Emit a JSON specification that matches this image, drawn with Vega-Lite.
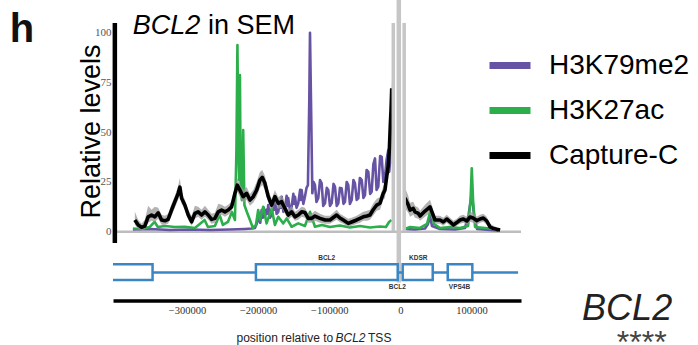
{
  "$schema": "https://vega.github.io/schema/vega-lite/v6.json",
  "width": 408,
  "height": 272,
  "autosize": {"type": "none"},
  "padding": {"left": 113, "top": 28.5, "right": 177, "bottom": 44.5},
  "background": "white",
  "config": {"view": {"stroke": null}, "font": "Liberation Sans"},
  "datasets": {
    "k79": [
      {"s":"H3K79me2","p":"L","x":-376000,"y":1.1},{"s":"H3K79me2","p":"L","x":-352000,"y":1.4},{"s":"H3K79me2","p":"L","x":-324000,"y":0.9},{"s":"H3K79me2","p":"L","x":-296000,"y":1.1},{"s":"H3K79me2","p":"L","x":-268000,"y":0.9},{"s":"H3K79me2","p":"L","x":-240000,"y":1.1},{"s":"H3K79me2","p":"L","x":-218500,"y":1.4},{"s":"H3K79me2","p":"L","x":-208700,"y":1.6},{"s":"H3K79me2","p":"L","x":-204500,"y":1.9},
      {"s":"H3K79me2","p":"L","x":-199900,"y":5.9},{"s":"H3K79me2","p":"L","x":-198300,"y":9},{"s":"H3K79me2","p":"L","x":-197000,"y":4.5},{"s":"H3K79me2","p":"L","x":-195100,"y":10.9},{"s":"H3K79me2","p":"L","x":-193500,"y":7},{"s":"H3K79me2","p":"L","x":-192000,"y":12},{"s":"H3K79me2","p":"L","x":-190400,"y":7.5},{"s":"H3K79me2","p":"L","x":-188500,"y":11},{"s":"H3K79me2","p":"L","x":-187000,"y":9},{"s":"H3K79me2","p":"L","x":-185800,"y":13.4},{"s":"H3K79me2","p":"L","x":-183500,"y":7},{"s":"H3K79me2","p":"L","x":-181000,"y":8.4},{"s":"H3K79me2","p":"L","x":-178800,"y":14},{"s":"H3K79me2","p":"L","x":-177500,"y":11},{"s":"H3K79me2","p":"L","x":-176400,"y":16.9},{"s":"H3K79me2","p":"L","x":-174000,"y":9},{"s":"H3K79me2","p":"L","x":-171700,"y":10.0},{"s":"H3K79me2","p":"L","x":-169500,"y":15},{"s":"H3K79me2","p":"L","x":-168000,"y":12},{"s":"H3K79me2","p":"L","x":-166900,"y":17.6},{"s":"H3K79me2","p":"L","x":-164500,"y":10},{"s":"H3K79me2","p":"L","x":-162300,"y":11.7},{"s":"H3K79me2","p":"L","x":-160000,"y":18},{"s":"H3K79me2","p":"L","x":-158800,"y":13},{"s":"H3K79me2","p":"L","x":-157700,"y":16.9},{"s":"H3K79me2","p":"L","x":-155000,"y":10},{"s":"H3K79me2","p":"L","x":-152900,"y":12.5},{"s":"H3K79me2","p":"L","x":-150500,"y":19},{"s":"H3K79me2","p":"L","x":-149200,"y":14},{"s":"H3K79me2","p":"L","x":-148200,"y":17.6},{"s":"H3K79me2","p":"L","x":-146000,"y":12},{"s":"H3K79me2","p":"L","x":-143600,"y":14.3},{"s":"H3K79me2","p":"L","x":-141000,"y":21},{"s":"H3K79me2","p":"L","x":-139800,"y":16},{"s":"H3K79me2","p":"L","x":-138800,"y":20.9},{"s":"H3K79me2","p":"L","x":-136500,"y":14},{"s":"H3K79me2","p":"L","x":-134200,"y":17.6},{"s":"H3K79me2","p":"L","x":-132000,"y":22},{"s":"H3K79me2","p":"L","x":-130000,"y":23.4},{"s":"H3K79me2","p":"L","x":-128100,"y":66},{"s":"H3K79me2","p":"L","x":-127100,"y":99.9},{"s":"H3K79me2","p":"L","x":-125700,"y":66},{"s":"H3K79me2","p":"L","x":-123800,"y":19.3},{"s":"H3K79me2","p":"L","x":-122000,"y":25},{"s":"H3K79me2","p":"L","x":-120100,"y":23.4},{"s":"H3K79me2","p":"L","x":-118000,"y":15},{"s":"H3K79me2","p":"L","x":-115500,"y":16.8},{"s":"H3K79me2","p":"L","x":-113000,"y":26},{"s":"H3K79me2","p":"L","x":-110700,"y":24.3},{"s":"H3K79me2","p":"L","x":-108500,"y":13},{"s":"H3K79me2","p":"L","x":-106000,"y":14.3},{"s":"H3K79me2","p":"L","x":-103500,"y":22},{"s":"H3K79me2","p":"L","x":-101400,"y":20.9},{"s":"H3K79me2","p":"L","x":-99000,"y":13},{"s":"H3K79me2","p":"L","x":-96600,"y":14.4},{"s":"H3K79me2","p":"L","x":-94000,"y":24},{"s":"H3K79me2","p":"L","x":-92000,"y":22.6},{"s":"H3K79me2","p":"L","x":-89500,"y":13},{"s":"H3K79me2","p":"L","x":-87300,"y":14.3},{"s":"H3K79me2","p":"L","x":-85000,"y":22},{"s":"H3K79me2","p":"L","x":-82600,"y":21.8},{"s":"H3K79me2","p":"L","x":-80000,"y":14},{"s":"H3K79me2","p":"L","x":-77900,"y":15.1},{"s":"H3K79me2","p":"L","x":-75500,"y":25},{"s":"H3K79me2","p":"L","x":-73300,"y":23.4},{"s":"H3K79me2","p":"L","x":-71000,"y":14},{"s":"H3K79me2","p":"L","x":-68500,"y":15.9},{"s":"H3K79me2","p":"L","x":-66000,"y":26},{"s":"H3K79me2","p":"L","x":-63900,"y":24.3},{"s":"H3K79me2","p":"L","x":-61500,"y":16},{"s":"H3K79me2","p":"L","x":-59200,"y":16.8},{"s":"H3K79me2","p":"L","x":-57000,"y":27},{"s":"H3K79me2","p":"L","x":-54400,"y":25.9},{"s":"H3K79me2","p":"L","x":-52000,"y":17},{"s":"H3K79me2","p":"L","x":-49800,"y":18.4},{"s":"H3K79me2","p":"L","x":-47500,"y":31},{"s":"H3K79me2","p":"L","x":-45100,"y":30.1},{"s":"H3K79me2","p":"L","x":-42500,"y":19},{"s":"H3K79me2","p":"L","x":-40400,"y":20.1},{"s":"H3K79me2","p":"L","x":-38000,"y":34},{"s":"H3K79me2","p":"L","x":-35700,"y":36.8},{"s":"H3K79me2","p":"L","x":-33500,"y":21},{"s":"H3K79me2","p":"L","x":-31100,"y":22.6},{"s":"H3K79me2","p":"L","x":-28500,"y":38},{"s":"H3K79me2","p":"L","x":-26300,"y":37.6},{"s":"H3K79me2","p":"L","x":-24000,"y":25},{"s":"H3K79me2","p":"L","x":-21700,"y":27.6},{"s":"H3K79me2","p":"L","x":-19500,"y":36},{"s":"H3K79me2","p":"L","x":-17000,"y":41.0},{"s":"H3K79me2","p":"L","x":-15800,"y":30},{"s":"H3K79me2","p":"L","x":-14600,"y":34.5},{"s":"H3K79me2","p":"L","x":-13600,"y":59.4},{"s":"H3K79me2","p":"L","x":-12200,"y":56},
      {"s":"H3K79me2","p":"R","x":6500,"y":1.4},{"s":"H3K79me2","p":"R","x":20500,"y":1.1},{"s":"H3K79me2","p":"R","x":34600,"y":1.6},{"s":"H3K79me2","p":"R","x":38800,"y":3.9},{"s":"H3K79me2","p":"R","x":41600,"y":7.9},{"s":"H3K79me2","p":"R","x":44400,"y":2.9},{"s":"H3K79me2","p":"R","x":55700,"y":1.4},{"s":"H3K79me2","p":"R","x":76800,"y":1.1},{"s":"H3K79me2","p":"R","x":90800,"y":1.9},{"s":"H3K79me2","p":"R","x":95800,"y":8.4},{"s":"H3K79me2","p":"R","x":100300,"y":19.3},{"s":"H3K79me2","p":"R","x":103500,"y":8.4},{"s":"H3K79me2","p":"R","x":107700,"y":1.4},{"s":"H3K79me2","p":"R","x":126000,"y":0.9},{"s":"H3K79me2","p":"R","x":137300,"y":0.6}
    ],
    "k27": [
      {"s":"H3K27ac","p":"L","x":-376000,"y":1.6},{"s":"H3K27ac","p":"L","x":-366200,"y":1.4},{"s":"H3K27ac","p":"L","x":-352200,"y":2.4},{"s":"H3K27ac","p":"L","x":-345600,"y":5.0},{"s":"H3K27ac","p":"L","x":-341000,"y":2.4},{"s":"H3K27ac","p":"L","x":-331100,"y":2.9},{"s":"H3K27ac","p":"L","x":-317000,"y":2.4},{"s":"H3K27ac","p":"L","x":-303000,"y":2.5},{"s":"H3K27ac","p":"L","x":-288900,"y":1.9},{"s":"H3K27ac","p":"L","x":-275200,"y":5.9},{"s":"H3K27ac","p":"L","x":-270600,"y":2.4},{"s":"H3K27ac","p":"L","x":-260800,"y":2.9},{"s":"H3K27ac","p":"L","x":-254200,"y":8.4},{"s":"H3K27ac","p":"L","x":-249500,"y":3.4},{"s":"H3K27ac","p":"L","x":-242500,"y":4.9},{"s":"H3K27ac","p":"L","x":-236900,"y":9.9},{"s":"H3K27ac","p":"L","x":-232600,"y":5.9},{"s":"H3K27ac","p":"L","x":-230500,"y":41},{"s":"H3K27ac","p":"L","x":-229100,"y":93.7},{"s":"H3K27ac","p":"L","x":-227700,"y":41},{"s":"H3K27ac","p":"L","x":-226600,"y":26},{"s":"H3K27ac","p":"L","x":-225600,"y":78.6},{"s":"H3K27ac","p":"L","x":-224500,"y":20.9},{"s":"H3K27ac","p":"L","x":-222800,"y":15.9},{"s":"H3K27ac","p":"L","x":-221000,"y":51},{"s":"H3K27ac","p":"L","x":-219300,"y":13.4},{"s":"H3K27ac","p":"L","x":-215800,"y":9.9},{"s":"H3K27ac","p":"L","x":-211500,"y":5.9},{"s":"H3K27ac","p":"L","x":-207300,"y":1.9},{"s":"H3K27ac","p":"L","x":-203100,"y":3.4},{"s":"H3K27ac","p":"L","x":-199900,"y":10.9},{"s":"H3K27ac","p":"L","x":-197500,"y":5.9},{"s":"H3K27ac","p":"L","x":-192900,"y":12.5},{"s":"H3K27ac","p":"L","x":-188100,"y":4.2},{"s":"H3K27ac","p":"L","x":-181000,"y":11.7},{"s":"H3K27ac","p":"L","x":-176400,"y":3.4},{"s":"H3K27ac","p":"L","x":-171700,"y":7.5},{"s":"H3K27ac","p":"L","x":-164700,"y":4.2},{"s":"H3K27ac","p":"L","x":-159900,"y":6.7},{"s":"H3K27ac","p":"L","x":-152900,"y":2.5},{"s":"H3K27ac","p":"L","x":-143600,"y":4.2},{"s":"H3K27ac","p":"L","x":-134200,"y":2.9},{"s":"H3K27ac","p":"L","x":-127100,"y":10.0},{"s":"H3K27ac","p":"L","x":-120100,"y":2.5},{"s":"H3K27ac","p":"L","x":-110300,"y":3.4},{"s":"H3K27ac","p":"L","x":-99000,"y":2.4},{"s":"H3K27ac","p":"L","x":-85000,"y":3.1},{"s":"H3K27ac","p":"L","x":-70900,"y":2.1},{"s":"H3K27ac","p":"L","x":-56800,"y":2.9},{"s":"H3K27ac","p":"L","x":-42800,"y":2.1},{"s":"H3K27ac","p":"L","x":-28700,"y":2.6},{"s":"H3K27ac","p":"L","x":-20300,"y":2.4},{"s":"H3K27ac","p":"L","x":-16000,"y":4.9},{"s":"H3K27ac","p":"L","x":-12500,"y":5.9},
      {"s":"H3K27ac","p":"R","x":6500,"y":1.4},{"s":"H3K27ac","p":"R","x":13500,"y":2.4},{"s":"H3K27ac","p":"R","x":27600,"y":1.9},{"s":"H3K27ac","p":"R","x":37400,"y":3.9},{"s":"H3K27ac","p":"R","x":43000,"y":11.7},{"s":"H3K27ac","p":"R","x":47300,"y":3.9},{"s":"H3K27ac","p":"R","x":55700,"y":1.9},{"s":"H3K27ac","p":"R","x":69800,"y":2.4},{"s":"H3K27ac","p":"R","x":83800,"y":1.9},{"s":"H3K27ac","p":"R","x":95100,"y":2.9},{"s":"H3K27ac","p":"R","x":98600,"y":15.9},{"s":"H3K27ac","p":"R","x":100300,"y":31.8},{"s":"H3K27ac","p":"R","x":102100,"y":15.9},{"s":"H3K27ac","p":"R","x":104900,"y":2.4},{"s":"H3K27ac","p":"R","x":119000,"y":1.9},{"s":"H3K27ac","p":"R","x":133000,"y":1.4},{"s":"H3K27ac","p":"R","x":140100,"y":0.9}
    ],
    "cap": [
      {"s":"Capture-C","p":"L","x":-373300,"y":5.9,"lo":3.5,"hi":10},{"s":"Capture-C","p":"L","x":-368600,"y":3.4,"lo":1.5,"hi":6},{"s":"Capture-C","p":"L","x":-363900,"y":2.2,"lo":0.8,"hi":4},{"s":"Capture-C","p":"L","x":-359200,"y":2.9,"lo":1.2,"hi":6},{"s":"Capture-C","p":"L","x":-354600,"y":7.5,"lo":4.5,"hi":13},{"s":"Capture-C","p":"L","x":-349800,"y":8.4,"lo":5.5,"hi":11},{"s":"Capture-C","p":"L","x":-345200,"y":7.5,"lo":5,"hi":12.5},{"s":"Capture-C","p":"L","x":-340500,"y":9.5,"lo":6.5,"hi":12},{"s":"Capture-C","p":"L","x":-335700,"y":5.9,"lo":3.5,"hi":8.5},{"s":"Capture-C","p":"L","x":-331100,"y":5.5,"lo":3.5,"hi":8},{"s":"Capture-C","p":"L","x":-326500,"y":6.2,"lo":4,"hi":9},{"s":"Capture-C","p":"L","x":-321700,"y":10.9,"lo":8,"hi":14},{"s":"Capture-C","p":"L","x":-317000,"y":15.1,"lo":12,"hi":18},{"s":"Capture-C","p":"L","x":-312400,"y":19.3,"lo":16,"hi":23},{"s":"Capture-C","p":"L","x":-310000,"y":22.4,"lo":19,"hi":27},{"s":"Capture-C","p":"L","x":-307600,"y":16.8,"lo":14,"hi":20},{"s":"Capture-C","p":"L","x":-303000,"y":13.4,"lo":11,"hi":16},{"s":"Capture-C","p":"L","x":-298300,"y":8.4,"lo":6,"hi":11},{"s":"Capture-C","p":"L","x":-293500,"y":5.0,"lo":3,"hi":8},{"s":"Capture-C","p":"L","x":-288900,"y":9.2,"lo":6.5,"hi":13},{"s":"Capture-C","p":"L","x":-284300,"y":10.0,"lo":7.5,"hi":12.5},{"s":"Capture-C","p":"L","x":-279500,"y":8.4,"lo":6,"hi":11},{"s":"Capture-C","p":"L","x":-274800,"y":10.0,"lo":7.5,"hi":13},{"s":"Capture-C","p":"L","x":-270200,"y":8.4,"lo":6,"hi":11},{"s":"Capture-C","p":"L","x":-265400,"y":6.2,"lo":4,"hi":9},{"s":"Capture-C","p":"L","x":-260800,"y":6.7,"lo":4.5,"hi":9.5},{"s":"Capture-C","p":"L","x":-256100,"y":10.0,"lo":7.5,"hi":14},{"s":"Capture-C","p":"L","x":-251300,"y":10.9,"lo":8.5,"hi":13.5},{"s":"Capture-C","p":"L","x":-246700,"y":10.0,"lo":7.5,"hi":12.5},{"s":"Capture-C","p":"L","x":-242100,"y":10.9,"lo":8.5,"hi":13.5},{"s":"Capture-C","p":"L","x":-237300,"y":12.5,"lo":10,"hi":15},{"s":"Capture-C","p":"L","x":-232600,"y":19.3,"lo":16,"hi":23},{"s":"Capture-C","p":"L","x":-229400,"y":23.4,"lo":20,"hi":27},{"s":"Capture-C","p":"L","x":-225600,"y":20.9,"lo":17.5,"hi":24},{"s":"Capture-C","p":"L","x":-221000,"y":17.6,"lo":14.5,"hi":21},{"s":"Capture-C","p":"L","x":-216200,"y":19.3,"lo":16,"hi":22.5},{"s":"Capture-C","p":"L","x":-211500,"y":15.9,"lo":13,"hi":19},{"s":"Capture-C","p":"L","x":-206900,"y":17.6,"lo":14.5,"hi":21},{"s":"Capture-C","p":"L","x":-202100,"y":20.9,"lo":17.5,"hi":25},{"s":"Capture-C","p":"L","x":-197500,"y":25.9,"lo":22,"hi":30},{"s":"Capture-C","p":"L","x":-194200,"y":27.3,"lo":23.5,"hi":31},{"s":"Capture-C","p":"L","x":-190400,"y":24.3,"lo":21,"hi":28},{"s":"Capture-C","p":"L","x":-185800,"y":17.6,"lo":14.5,"hi":21},{"s":"Capture-C","p":"L","x":-181000,"y":13.4,"lo":10.5,"hi":16.5},{"s":"Capture-C","p":"L","x":-176400,"y":17.6,"lo":14.5,"hi":21},{"s":"Capture-C","p":"L","x":-171700,"y":14.3,"lo":11.5,"hi":17.5},{"s":"Capture-C","p":"L","x":-166900,"y":15.1,"lo":12,"hi":18.5},{"s":"Capture-C","p":"L","x":-162300,"y":11.7,"lo":9,"hi":14.5},{"s":"Capture-C","p":"L","x":-157700,"y":8.4,"lo":6,"hi":11},{"s":"Capture-C","p":"L","x":-152900,"y":10.0,"lo":7.5,"hi":13},{"s":"Capture-C","p":"L","x":-148200,"y":7.5,"lo":5.5,"hi":10},{"s":"Capture-C","p":"L","x":-143600,"y":8.4,"lo":6,"hi":11},{"s":"Capture-C","p":"L","x":-138800,"y":10.0,"lo":7.5,"hi":12.5},{"s":"Capture-C","p":"L","x":-134200,"y":9.6,"lo":7,"hi":12},{"s":"Capture-C","p":"L","x":-129500,"y":6.7,"lo":4.5,"hi":9},{"s":"Capture-C","p":"L","x":-124800,"y":6.7,"lo":4.5,"hi":9},{"s":"Capture-C","p":"L","x":-120100,"y":7.9,"lo":5.5,"hi":10.5},{"s":"Capture-C","p":"L","x":-113100,"y":6.7,"lo":4.5,"hi":9},{"s":"Capture-C","p":"L","x":-106000,"y":5.9,"lo":4,"hi":8},{"s":"Capture-C","p":"L","x":-99000,"y":5.9,"lo":4,"hi":8},{"s":"Capture-C","p":"L","x":-89600,"y":8.4,"lo":6,"hi":11},{"s":"Capture-C","p":"L","x":-85000,"y":6.9,"lo":4.8,"hi":9},{"s":"Capture-C","p":"L","x":-80300,"y":5.9,"lo":4,"hi":8},{"s":"Capture-C","p":"L","x":-73300,"y":4.2,"lo":2.5,"hi":6.5},{"s":"Capture-C","p":"L","x":-68500,"y":4.9,"lo":3,"hi":7},{"s":"Capture-C","p":"L","x":-61500,"y":5.9,"lo":4,"hi":8},{"s":"Capture-C","p":"L","x":-56800,"y":6.7,"lo":4.5,"hi":9},{"s":"Capture-C","p":"L","x":-52200,"y":7.5,"lo":5.5,"hi":10},{"s":"Capture-C","p":"L","x":-47000,"y":7.9,"lo":5.5,"hi":10.5},{"s":"Capture-C","p":"L","x":-42800,"y":8.4,"lo":6,"hi":11},{"s":"Capture-C","p":"L","x":-38500,"y":10.9,"lo":8,"hi":14},{"s":"Capture-C","p":"L","x":-33300,"y":13.4,"lo":10.5,"hi":16.5},{"s":"Capture-C","p":"L","x":-28700,"y":14.3,"lo":11,"hi":17.5},{"s":"Capture-C","p":"L","x":-24100,"y":19.3,"lo":16,"hi":23},{"s":"Capture-C","p":"L","x":-21700,"y":20.9,"lo":17,"hi":25},{"s":"Capture-C","p":"L","x":-19300,"y":27.6,"lo":23.5,"hi":32},{"s":"Capture-C","p":"L","x":-17000,"y":33.5,"lo":29,"hi":38},{"s":"Capture-C","p":"L","x":-15600,"y":41.0,"lo":36,"hi":46},{"s":"Capture-C","p":"L","x":-14200,"y":53.5,"lo":48,"hi":59},{"s":"Capture-C","p":"L","x":-13200,"y":61.1,"lo":55,"hi":67},{"s":"Capture-C","p":"L","x":-12200,"y":72.0,"lo":66,"hi":76},
      {"s":"Capture-C","p":"R","x":6500,"y":16.9,"lo":12,"hi":22},{"s":"Capture-C","p":"R","x":8900,"y":15.1,"lo":10.5,"hi":20},{"s":"Capture-C","p":"R","x":11100,"y":13.4,"lo":9.5,"hi":18},{"s":"Capture-C","p":"R","x":13500,"y":10.9,"lo":7.5,"hi":14.5},{"s":"Capture-C","p":"R","x":18100,"y":11.7,"lo":8.5,"hi":15},{"s":"Capture-C","p":"R","x":20500,"y":10.0,"lo":7,"hi":13},{"s":"Capture-C","p":"R","x":25200,"y":9.2,"lo":6.5,"hi":12},{"s":"Capture-C","p":"R","x":27600,"y":7.9,"lo":5.5,"hi":10.5},{"s":"Capture-C","p":"R","x":34600,"y":10.4,"lo":7.5,"hi":13.5},{"s":"Capture-C","p":"R","x":41600,"y":12.5,"lo":9.5,"hi":16},{"s":"Capture-C","p":"R","x":44400,"y":9.9,"lo":7,"hi":13},{"s":"Capture-C","p":"R","x":48700,"y":5.9,"lo":4,"hi":8},{"s":"Capture-C","p":"R","x":55700,"y":5.9,"lo":4,"hi":8},{"s":"Capture-C","p":"R","x":60300,"y":4.9,"lo":3,"hi":7},{"s":"Capture-C","p":"R","x":65100,"y":6.4,"lo":4.5,"hi":8.5},{"s":"Capture-C","p":"R","x":69800,"y":5.0,"lo":3,"hi":7},{"s":"Capture-C","p":"R","x":74400,"y":3.4,"lo":2,"hi":5.5},{"s":"Capture-C","p":"R","x":79200,"y":4.6,"lo":3,"hi":6.5},{"s":"Capture-C","p":"R","x":83800,"y":5.9,"lo":4,"hi":8},{"s":"Capture-C","p":"R","x":88500,"y":6.4,"lo":4.5,"hi":8.5},{"s":"Capture-C","p":"R","x":93300,"y":5.4,"lo":3.5,"hi":7.5},{"s":"Capture-C","p":"R","x":97900,"y":7.4,"lo":5,"hi":10},{"s":"Capture-C","p":"R","x":102100,"y":6.9,"lo":4.5,"hi":9.5},{"s":"Capture-C","p":"R","x":107300,"y":5.6,"lo":3.5,"hi":7.5},{"s":"Capture-C","p":"R","x":112000,"y":6.4,"lo":4.5,"hi":8.5},{"s":"Capture-C","p":"R","x":116600,"y":6.9,"lo":5,"hi":9},{"s":"Capture-C","p":"R","x":121400,"y":5.4,"lo":3.5,"hi":7.5},{"s":"Capture-C","p":"R","x":126000,"y":2.4,"lo":1,"hi":4},{"s":"Capture-C","p":"R","x":130700,"y":1.6,"lo":0.6,"hi":3},{"s":"Capture-C","p":"R","x":135400,"y":1.2,"lo":0.4,"hi":2.2},{"s":"Capture-C","p":"R","x":140100,"y":0.9,"lo":0.3,"hi":1.6}
    ],
    "genes": [
      {"gene":"","start":-407000,"end":-348400},
      {"gene":"BCL2","start":-203100,"end":-3800},
      {"gene":"KDSR","start":3200,"end":45400},
      {"gene":"VPS4B","start":66500,"end":101100}
    ],
    "genelabels": [
      {"label":"BCL2","x":-103600,"side":"above"},
      {"label":"KDSR","x":25000,"side":"above"},
      {"label":"BCL2","x":-4300,"side":"below"},
      {"label":"VPS4B","x":83000,"side":"below"}
    ]
  },
  "layer": [
    {
      "data": {"values": [{"a": -404000, "b": 169500}]},
      "mark": {"type": "rule", "color": "#bdbdbd", "strokeWidth": 2.5},
      "encoding": {
        "x": {"field": "a", "type": "quantitative"},
        "x2": {"field": "b"},
        "y": {"datum": 0}
      }
    },
    {
      "data": {"name": "k79"},
      "mark": {"type": "line", "strokeWidth": 2.6, "strokeJoin": "round"},
      "encoding": {
        "x": {"field": "x", "type": "quantitative", "scale": {"domain": [-404000, 169500], "nice": false, "zero": false},
          "axis": {"title": null, "values": [-300000, -200000, -100000, 0, 100000], "format": "d", "domainColor": "black", "domainWidth": 3.5, "ticks": false, "grid": false, "labelPadding": 5, "labelFont": "Liberation Sans Narrow", "labelFontSize": 10.5, "labelColor": "#333", "labelFlush": false}},
        "y": {"field": "y", "type": "quantitative", "scale": {"domain": [-34.5, 102], "nice": false, "zero": false},
          "axis": {"title": "Relative levels", "values": [0, 25, 50, 75, 100], "domain": false, "ticks": false, "grid": false, "labelPadding": 2, "labelFont": "Liberation Sans Narrow", "labelFontSize": 11, "labelColor": "#555", "titleFont": "Liberation Sans", "titleFontSize": 27, "titleFontWeight": "normal", "titleColor": "black", "titleX": -14, "titleY": 102.5, "titleAngle": -90, "titleAlign": "center", "titleBaseline": "alphabetic"}},
        "color": {"field": "s", "type": "nominal",
          "scale": {"domain": ["H3K79me2", "H3K27ac", "Capture-C"], "range": ["#6653a3", "#2cae4a", "#000000"]},
          "legend": {"orient": "none", "legendX": 373, "legendY": 13, "title": null, "symbolType": "stroke", "symbolStrokeWidth": 7, "symbolSize": 1681, "labelFontSize": 28, "labelFont": "Liberation Sans", "labelColor": "black", "labelOffset": 15, "rowPadding": 7, "padding": 0, "labelLimit": 300}},
        "detail": {"field": "p"}
      }
    },
    {
      "data": {"name": "k27"},
      "mark": {"type": "line", "strokeWidth": 2.6, "strokeJoin": "round"},
      "encoding": {
        "x": {"field": "x", "type": "quantitative"},
        "y": {"field": "y", "type": "quantitative"},
        "color": {"field": "s", "type": "nominal"},
        "detail": {"field": "p"}
      }
    },
    {
      "data": {"name": "cap"},
      "mark": {"type": "area", "color": "#9a9a9a", "opacity": 0.75},
      "encoding": {
        "x": {"field": "x", "type": "quantitative"},
        "y": {"field": "lo", "type": "quantitative"},
        "y2": {"field": "hi"},
        "detail": {"field": "p"}
      }
    },
    {
      "data": {"name": "cap"},
      "mark": {"type": "line", "strokeWidth": 3.6, "strokeJoin": "round"},
      "encoding": {
        "x": {"field": "x", "type": "quantitative"},
        "y": {"field": "y", "type": "quantitative"},
        "color": {"field": "s", "type": "nominal"},
        "detail": {"field": "p"}
      }
    },
    {
      "data": {"values": [{"x": -2250, "top": 116.3, "bottom": -25.5}]},
      "mark": {"type": "rule", "color": "#c6c6c6", "strokeWidth": 4.5},
      "encoding": {
        "x": {"field": "x", "type": "quantitative"},
        "y": {"field": "top", "type": "quantitative"},
        "y2": {"field": "bottom"}
      }
    },
    {
      "data": {"values": [{"x": -10000, "top": 104.8, "bottom": 0.4}, {"x": 5300, "top": 104.8, "bottom": 0.4}]},
      "mark": {"type": "rule", "color": "#c6c6c6", "strokeWidth": 3.5},
      "encoding": {
        "x": {"field": "x", "type": "quantitative"},
        "y": {"field": "top", "type": "quantitative"},
        "y2": {"field": "bottom"}
      }
    },
    {
      "data": {"values": [{"x": -401400, "top": 104.8, "bottom": -5.6}]},
      "mark": {"type": "rule", "color": "black", "strokeWidth": 4.5},
      "encoding": {
        "x": {"field": "x", "type": "quantitative"},
        "y": {"field": "top", "type": "quantitative"},
        "y2": {"field": "bottom"}
      }
    },
    {
      "data": {"values": [{"a": -404000, "b": 165400}]},
      "mark": {"type": "rule", "color": "#3a86c4", "strokeWidth": 2.5},
      "encoding": {
        "x": {"field": "a", "type": "quantitative"},
        "x2": {"field": "b"},
        "y": {"datum": -20.4}
      }
    },
    {
      "data": {"name": "genes"},
      "mark": {"type": "rect", "fill": "white", "stroke": "#3a86c4", "strokeWidth": 2.5, "clip": true},
      "encoding": {
        "x": {"field": "start", "type": "quantitative"},
        "x2": {"field": "end"},
        "y": {"datum": -16.3},
        "y2": {"datum": -24.2}
      }
    },
    {
      "data": {"name": "genelabels"},
      "transform": [{"filter": "datum.side === 'above'"}],
      "mark": {"type": "text", "fontSize": 6.5, "fontWeight": "bold", "color": "#333", "align": "center", "baseline": "middle"},
      "encoding": {
        "x": {"field": "x", "type": "quantitative"},
        "y": {"datum": -13.3},
        "text": {"field": "label"}
      }
    },
    {
      "data": {"name": "genelabels"},
      "transform": [{"filter": "datum.side === 'below'"}],
      "mark": {"type": "text", "fontSize": 6.5, "fontWeight": "bold", "color": "#333", "align": "center", "baseline": "middle"},
      "encoding": {
        "x": {"field": "x", "type": "quantitative"},
        "y": {"datum": -27.9},
        "text": {"field": "label"}
      }
    },
    {
      "data": {"values": [{}]},
      "mark": {"type": "text", "fontSize": 40, "fontWeight": "bold", "color": "#111", "align": "left", "baseline": "alphabetic"},
      "encoding": {"x": {"datum": -549000}, "y": {"datum": 95.2}, "text": {"value": "h"}}
    },
    {
      "data": {"values": [{}]},
      "mark": {"type": "text", "fontSize": 27, "fontStyle": "italic", "color": "black", "align": "left", "baseline": "alphabetic"},
      "encoding": {"x": {"datum": -376100}, "y": {"datum": 99.1}, "text": {"value": "BCL2"}}
    },
    {
      "data": {"values": [{}]},
      "mark": {"type": "text", "fontSize": 27, "color": "black", "align": "left", "baseline": "alphabetic"},
      "encoding": {"x": {"datum": -270600}, "y": {"datum": 99.1}, "text": {"value": "in SEM"}}
    },
    {
      "data": {"values": [{}]},
      "mark": {"type": "text", "fontSize": 12, "color": "#222", "align": "right", "baseline": "alphabetic"},
      "encoding": {"x": {"datum": -94400}, "y": {"datum": -55.2}, "text": {"value": "position relative to"}}
    },
    {
      "data": {"values": [{}]},
      "mark": {"type": "text", "fontSize": 12, "fontStyle": "italic", "color": "#222", "align": "left", "baseline": "alphabetic"},
      "encoding": {"x": {"datum": -91300}, "y": {"datum": -55.2}, "text": {"value": "BCL2"}}
    },
    {
      "data": {"values": [{}]},
      "mark": {"type": "text", "fontSize": 12, "color": "#222", "align": "left", "baseline": "alphabetic"},
      "encoding": {"x": {"datum": -45500}, "y": {"datum": -55.2}, "text": {"value": "TSS"}}
    },
    {
      "data": {"values": [{}]},
      "mark": {"type": "text", "fontSize": 36, "fontStyle": "italic", "color": "#222", "align": "left", "baseline": "alphabetic"},
      "encoding": {"x": {"datum": 255400}, "y": {"datum": -44.3}, "text": {"value": "BCL2"}}
    },
    {
      "data": {"values": [{}]},
      "mark": {"type": "text", "fontSize": 32, "color": "#444", "align": "left", "baseline": "alphabetic"},
      "encoding": {"x": {"datum": 304200}, "y": {"datum": -60.6}, "text": {"value": "****"}}
    }
  ]
}
